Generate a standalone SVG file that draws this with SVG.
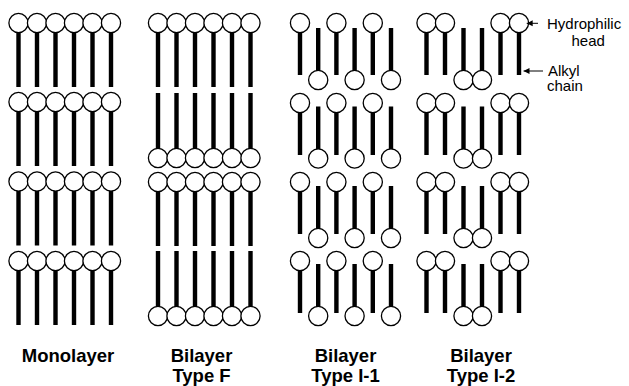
<svg xmlns="http://www.w3.org/2000/svg" xmlns:xlink="http://www.w3.org/1999/xlink" width="629" height="386" viewBox="0 0 629 386">
<style>
  .chain { fill: #000; }
  .head { fill: #fff; stroke: #000; stroke-width: 1.3; }
  .lbl { font-family: "Liberation Sans", Arial, sans-serif; font-size: 18.5px; font-weight: bold; fill: #000; text-anchor: middle; }
  .ann { font-family: "Liberation Sans", Arial, sans-serif; font-size: 15px; fill: #000; }
  .arrow { stroke: #000; stroke-width: 1; fill: none; }
</style>
<defs>
  <marker id="ah" viewBox="0 0 10 10" refX="10" refY="5" markerWidth="6" markerHeight="6.5" markerUnits="userSpaceOnUse" orient="auto">
    <path d="M0,0 L10,5 L0,10 z" fill="#000"/>
  </marker>
  <g id="upL"><rect class="chain" x="-2.2" y="9" width="4.4" height="55"/><circle class="head" r="9.6"/></g>
  <g id="dnL"><rect class="chain" x="-2.2" y="-65" width="4.4" height="56"/><circle class="head" r="9.6"/></g>
  <g id="upS"><rect class="chain" x="-2.2" y="9" width="4.4" height="43"/><circle class="head" r="9.6"/></g>
  <g id="dnS"><rect class="chain" x="-2.2" y="-52" width="4.4" height="43"/><circle class="head" r="9.6"/></g>
  <g id="monoRow">
    <use xlink:href="#upL" href="#upL" x="0"/><use xlink:href="#upL" href="#upL" x="18.5"/><use xlink:href="#upL" href="#upL" x="37"/>
    <use xlink:href="#upL" href="#upL" x="55.5"/><use xlink:href="#upL" href="#upL" x="74"/><use xlink:href="#upL" href="#upL" x="92.5"/>
  </g>
  <g id="monoRowDn">
    <use xlink:href="#dnL" href="#dnL" x="0"/><use xlink:href="#dnL" href="#dnL" x="18.5"/><use xlink:href="#dnL" href="#dnL" x="37"/>
    <use xlink:href="#dnL" href="#dnL" x="55.5"/><use xlink:href="#dnL" href="#dnL" x="74"/><use xlink:href="#dnL" href="#dnL" x="92.5"/>
  </g>
  <g id="i1Up">
    <use xlink:href="#upS" href="#upS" x="0"/><use xlink:href="#upS" href="#upS" x="36.4"/><use xlink:href="#upS" href="#upS" x="72.8"/>
  </g>
  <g id="i1Dn">
    <use xlink:href="#dnS" href="#dnS" x="18.2"/><use xlink:href="#dnS" href="#dnS" x="54.6"/><use xlink:href="#dnS" href="#dnS" x="91"/>
  </g>
  <g id="i2Up">
    <use xlink:href="#upS" href="#upS" x="0"/><use xlink:href="#upS" href="#upS" x="18.5"/><use xlink:href="#upS" href="#upS" x="74"/><use xlink:href="#upS" href="#upS" x="92.5"/>
  </g>
  <g id="i2Dn">
    <use xlink:href="#dnS" href="#dnS" x="37"/><use xlink:href="#dnS" href="#dnS" x="55.5"/>
  </g>
</defs>

<g id="monolayer">
  <use xlink:href="#monoRow" href="#monoRow" x="18.5" y="23"/>
  <use xlink:href="#monoRow" href="#monoRow" x="18.5" y="102"/>
  <use xlink:href="#monoRow" href="#monoRow" x="18.5" y="181.5"/>
  <use xlink:href="#monoRow" href="#monoRow" x="18.5" y="261"/>
  <text class="lbl" x="68" y="362">Monolayer</text>
</g>

<g id="bilayer-type-f">
  <use xlink:href="#monoRow" href="#monoRow" x="158" y="23"/>
  <use xlink:href="#monoRowDn" href="#monoRowDn" x="158" y="158"/>
  <use xlink:href="#monoRow" href="#monoRow" x="158" y="182"/>
  <use xlink:href="#monoRowDn" href="#monoRowDn" x="158" y="316"/>
  <text class="lbl" x="201.5" y="362">Bilayer</text>
  <text class="lbl" x="201.5" y="381.5">Type F</text>
</g>

<g id="bilayer-type-i1">
  <use xlink:href="#i1Up" href="#i1Up" x="300" y="23"/>
  <use xlink:href="#i1Dn" href="#i1Dn" x="300" y="80"/>
  <use xlink:href="#i1Up" href="#i1Up" x="300" y="103"/>
  <use xlink:href="#i1Dn" href="#i1Dn" x="300" y="158.5"/>
  <use xlink:href="#i1Up" href="#i1Up" x="300" y="182"/>
  <use xlink:href="#i1Dn" href="#i1Dn" x="300" y="238"/>
  <use xlink:href="#i1Up" href="#i1Up" x="300" y="261"/>
  <use xlink:href="#i1Dn" href="#i1Dn" x="300" y="316"/>
  <text class="lbl" x="345.5" y="362">Bilayer</text>
  <text class="lbl" x="345.5" y="381.5">Type I-1</text>
</g>

<g id="bilayer-type-i2">
  <use xlink:href="#i2Up" href="#i2Up" x="426.5" y="23"/>
  <use xlink:href="#i2Dn" href="#i2Dn" x="426.5" y="80"/>
  <use xlink:href="#i2Up" href="#i2Up" x="426.5" y="103"/>
  <use xlink:href="#i2Dn" href="#i2Dn" x="426.5" y="158.5"/>
  <use xlink:href="#i2Up" href="#i2Up" x="426.5" y="182"/>
  <use xlink:href="#i2Dn" href="#i2Dn" x="426.5" y="238"/>
  <use xlink:href="#i2Up" href="#i2Up" x="426.5" y="261"/>
  <use xlink:href="#i2Dn" href="#i2Dn" x="426.5" y="316"/>
  <text class="lbl" x="481" y="362">Bilayer</text>
  <text class="lbl" x="481" y="381.5">Type I-2</text>
</g>

<g id="annotation-head">
  <text class="ann" x="547" y="29.3">Hydrophilic</text>
  <text class="ann" x="571.5" y="46">head</text>
</g>
<g id="annotation-chain">
  <text class="ann" x="548" y="75.5">Alkyl</text>
  <text class="ann" x="547" y="91">chain</text>
</g>

<g id="connectors">
  <line class="arrow" x1="538" y1="23.3" x2="526.7" y2="23.3" marker-end="url(#ah)"/>
  <line class="arrow" x1="543" y1="71" x2="523.5" y2="71" marker-end="url(#ah)"/>
</g>
</svg>
